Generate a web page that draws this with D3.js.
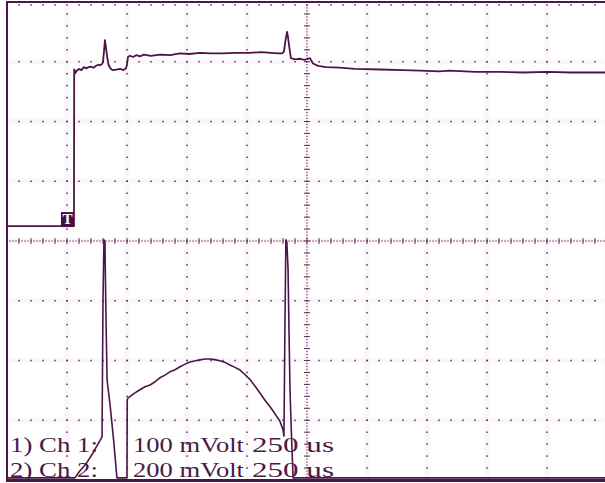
<!DOCTYPE html>
<html>
<head>
<meta charset="utf-8">
<script src="https://cdn.jsdelivr.net/npm/d3@7"></script>
<style>
  body { margin: 0; background: #fff; }
  svg { display: block; }
</style>
</head>
<body>
<script>
// channel 1 trace: time in us, level in mV (100 mV/div)
var ch1Time = [0, 279, 280, 285, 290, 300, 310, 320, 330, 340, 350, 360, 370, 380, 387, 395, 400, 404, 408, 412, 417, 423, 429, 436, 442, 455, 471, 485, 496, 500, 504, 512, 525, 540, 554, 570, 600, 637, 680, 720, 760, 804, 850, 900, 950, 1012, 1060, 1100, 1130, 1146, 1154, 1160, 1167, 1171, 1175, 1183, 1200, 1221, 1240, 1262, 1275, 1296, 1330, 1387, 1450, 1554, 1650, 1721, 1800, 1846, 1950, 2054, 2150, 2250, 2350, 2500];
var ch1mV   = [0,   0, 262, 256, 260, 263, 261, 266, 264, 266, 267, 265, 268, 270, 269, 271, 274, 292, 311, 300, 284, 270, 265, 262, 261, 262, 263, 261, 264, 270, 283, 285, 283, 286, 284, 287, 285, 287, 286, 289, 288, 290, 289, 289, 290, 290, 291, 290, 289, 289, 292, 310, 325, 316, 303, 281, 279, 280, 278, 281, 272, 268, 266, 265, 263, 262, 261, 260, 259, 260, 258, 258, 257, 258, 257, 257];

// channel 2 trace: time in us, level in mV (200 mV/div)
var ch2Time = [0, 100, 200, 283, 300, 330, 360, 396, 400, 404, 408, 412, 415, 417, 430, 445, 458, 475, 490, 500, 501, 504, 512, 530, 554, 575, 596, 617, 637, 660, 679, 700, 721, 740, 762, 785, 804, 825, 846, 865, 887, 910, 929, 950, 971, 990, 1012, 1040, 1075, 1100, 1137, 1150, 1154, 1158, 1162, 1166, 1171, 1175, 1179, 1185, 1192, 1300, 1500, 1700, 1900, 2100, 2300, 2500];
var ch2mV   = [0,   0,   0,   0,  20,  48,  86, 137, 596, 797, 790, 560, 420, 328, 240, 120,   0,   0,   0,   0, 261, 268, 272, 283, 295, 305, 311, 322, 335, 345, 355, 362, 372, 380, 388, 392, 395, 398, 398, 396, 392, 386, 378, 370, 361, 347, 330, 300, 260, 234, 190, 161, 140, 500, 797, 790, 700, 495, 300, 150,   0,   0,   0,   0,   0,   0,   0,   0];

// readout text
var readout = [
  ["1) Ch 1:", "100 mVolt", "250 us"],
  ["2) Ch 2:", "200 mVolt", "250 us"]
];

var ink = "#4d1448";
var dotInk = "#5e2a58";
var halo = "#fbf6fa";

var W = 605, H = 483;
var svg = d3.select("body").append("svg").attr("width", W).attr("height", H);

// 10 horizontal divisions of 250 us, 8 vertical divisions
var x = d3.scaleLinear().domain([0, 2500]).range([7, 607]);
var yDiv = d3.scaleLinear().domain([-4, 4]).range([480, 2]);
var y1 = d3.scaleLinear().domain([-425, 375]).range([480, 2]);
var y2 = d3.scaleLinear().domain([-7, 1593]).range([480, 2]);

var majorT = d3.range(0, 2501, 250);
var minorT = d3.range(0, 2501, 50);
var majorD = d3.range(-4, 4.01, 1);
var minorD = d3.range(-4, 4.01, 0.2);

var grid = svg.append("g");

// faint pink halo along grid lines
majorT.slice(1).forEach(function(t) {
  grid.append("line").attr("x1", x(t)).attr("x2", x(t)).attr("y1", 2).attr("y2", 480)
    .attr("stroke", halo).attr("stroke-width", 5);
});
majorD.slice(1, -1).forEach(function(d) {
  grid.append("line").attr("x1", 7).attr("x2", 607).attr("y1", yDiv(d)).attr("y2", yDiv(d))
    .attr("stroke", halo).attr("stroke-width", 5);
});

// dotted vertical grid lines
majorT.slice(1).forEach(function(t) {
  if (t === 1250) return;
  minorD.forEach(function(d) {
    grid.append("rect").attr("x", x(t) - 0.75).attr("y", yDiv(d) - 0.75)
      .attr("width", 1.5).attr("height", 1.5).attr("fill", dotInk);
  });
});
// dotted horizontal grid lines
majorD.forEach(function(d) {
  if (d === 0) return;
  var yy = d === 4 ? yDiv(d) + 3 : yDiv(d);
  minorT.forEach(function(t) {
    grid.append("rect").attr("x", x(t) - 0.75).attr("y", yy - 0.75)
      .attr("width", 1.5).attr("height", 1.5).attr("fill", dotInk);
  });
});

// centre cross with fine dots and ticks
d3.range(0, 2501, 12.5).forEach(function(t) {
  grid.append("rect").attr("x", x(t) - 0.6).attr("y", yDiv(0) - 0.6)
    .attr("width", 1.2).attr("height", 1.2).attr("fill", dotInk);
});
minorT.forEach(function(t) {
  grid.append("line").attr("x1", x(t)).attr("x2", x(t))
    .attr("y1", yDiv(0) - 3).attr("y2", yDiv(0) + 3)
    .attr("stroke", dotInk).attr("stroke-width", 1);
});
d3.range(-4, 4.01, 0.05).forEach(function(d) {
  grid.append("rect").attr("x", x(1250) - 0.6).attr("y", yDiv(d) - 0.6)
    .attr("width", 1.2).attr("height", 1.2).attr("fill", dotInk);
});
minorD.forEach(function(d) {
  grid.append("line").attr("x1", x(1250) - 3).attr("x2", x(1250) + 3)
    .attr("y1", yDiv(d)).attr("y2", yDiv(d))
    .attr("stroke", dotInk).attr("stroke-width", 1);
});

// frame
svg.append("line").attr("x1", 7).attr("x2", 7).attr("y1", 1).attr("y2", 481)
  .attr("stroke", ink).attr("stroke-width", 2);
svg.append("line").attr("x1", 6).attr("x2", 607).attr("y1", 2).attr("y2", 2)
  .attr("stroke", ink).attr("stroke-width", 2);
svg.append("line").attr("x1", 6).attr("x2", 607).attr("y1", 480.5).attr("y2", 480.5)
  .attr("stroke", ink).attr("stroke-width", 3);

// readout text
var txt = svg.append("g").attr("font-family", "'Liberation Serif', 'Times New Roman', serif")
  .attr("font-size", 22).attr("fill", "#4a1a46");
var cols = [[10, 88], [133, 111], [252, 82]];
readout.forEach(function(row, i) {
  row.forEach(function(s, j) {
    txt.append("text").attr("x", cols[j][0]).attr("y", 452 + i * 25)
      .attr("textLength", cols[j][1]).attr("lengthAdjust", "spacingAndGlyphs")
      .text(s);
  });
});

// traces
var line1 = d3.line().x(function(d) { return x(d[0]); }).y(function(d) { return y1(d[1]); });
var line2 = d3.line().x(function(d) { return x(d[0]); }).y(function(d) { return y2(d[1]); });

svg.append("path").datum(d3.zip(ch2Time, ch2mV))
  .attr("d", line2).attr("fill", "none").attr("stroke", ink)
  .attr("stroke-width", 1.6).attr("stroke-linejoin", "round");
svg.append("path").datum(d3.zip(ch1Time, ch1mV))
  .attr("d", line1).attr("fill", "none").attr("stroke", ink)
  .attr("stroke-width", 1.8).attr("stroke-linejoin", "round");

// trigger marker
var tx = x(279), ty = y1(0);
svg.append("rect").attr("x", tx - 13).attr("y", ty - 14).attr("width", 13).attr("height", 15)
  .attr("fill", "#4a0f40");
svg.append("text").attr("x", tx - 6.5).attr("y", ty - 2)
  .attr("text-anchor", "middle").attr("font-family", "'Liberation Serif', serif")
  .attr("font-weight", "bold").attr("font-size", 15).attr("fill", "#fff").text("T");
</script>
</body>
</html>
